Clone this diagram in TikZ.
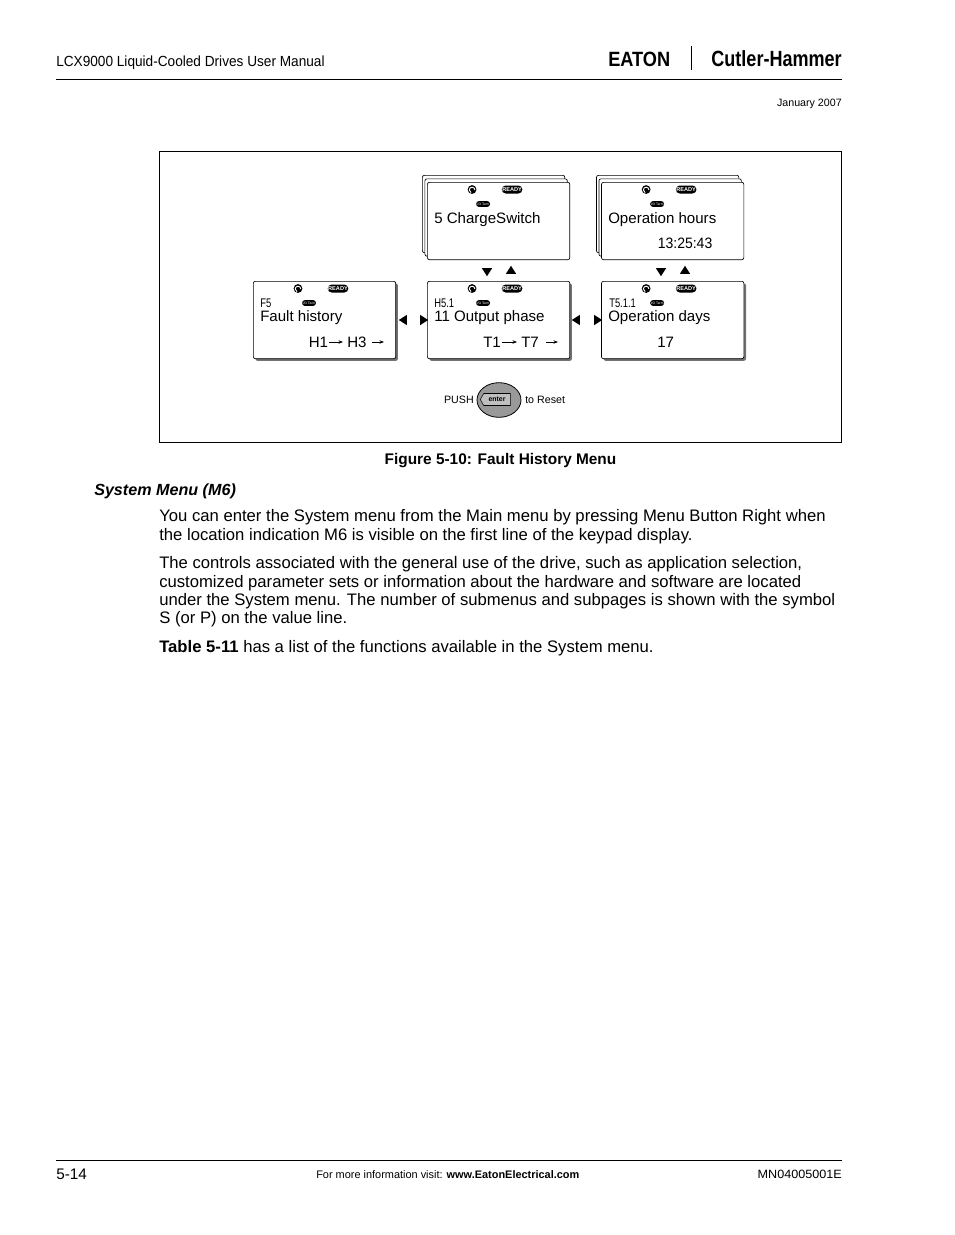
\documentclass[tikz,border=0pt]{standalone}
\usepackage{fontspec}
\setmainfont{Liberation Sans}
\usetikzlibrary{shapes.geometric, shapes.symbols, shapes.misc, arrows.meta, positioning, shadows, backgrounds}

\newcommand{\fsz}[1]{\fontsize{#1}{#1}\selectfont}
\newcommand{\squeeze}[2]{\scalebox{#1}[1]{#2}}
\newcommand{\keypadicons}[1]{
    \node[knob] (#1k) at ([shift={(45,7.5)}]#1.north west) {};
    \draw[white, line width=0.7pt] ([shift={(2.8,0.5)}]#1k.center) arc[start angle=0, end angle=250, radius=2.1pt];
    \node[readyled] (#1r) at ([shift={(85,7.5)}]#1.north west) {READY};
    \node[termled] (#1t) at ([shift={(56,22)}]#1.north west) {I/O Term};
}

\begin{document}
\begin{tikzpicture}[
    x=0.75pt, y=-0.75pt,
    node distance = 15.75pt and 23.25pt,
    screen/.style = {
        rectangle,
        rounded corners=1.5pt,
        minimum width=106.8pt,
        minimum height=58pt,
        inner sep=0pt,
        draw=black,
        line width=0.5pt,
        fill=white
    },
    shaded/.style = {screen, drop shadow={shadow xshift=1.6pt, shadow yshift=-1.6pt, fill=black!55, opacity=1}},
    knob/.style = {circle, fill=black, inner sep=0pt, minimum size=6.6pt},
    readyled/.style = {rounded rectangle, fill=black, text=white, inner sep=0pt, minimum width=15.5pt, minimum height=6pt, font=\bfseries\fsz{4.2}},
    termled/.style = {rounded rectangle, fill=black, text=white, inner sep=0pt, minimum width=10.5pt, minimum height=4.4pt, font=\fsz{2.5}},
    lcdline/.style = {anchor=base west, inner sep=0pt, font=\fsz{11.3}},
    lcdcode/.style = {anchor=base west, inner sep=0pt, font=\fsz{9.4}},
    body/.style = {anchor=base west, inner sep=0pt, font=\fsz{12.5}},
    small/.style = {inner sep=0pt, font=\fsz{8}},
    navtip/.style = {isosceles triangle, isosceles triangle apex angle=65, fill=black, inner sep=0pt, minimum height=6pt, minimum width=6.5pt},
    valarrow/.style = {-{Stealth[length=3.4pt, width=2.6pt]}, line width=0.6pt, shorten <=0.6pt, shorten >=3pt},
    rulerline/.style = {line width=0.5pt, black}
]
\useasboundingbox (0,0) rectangle (954,1235);

%% Page header
\node[anchor=base west, inner sep=0pt, font=\fsz{11}] (title) at (56,66) {\squeeze{0.93}{LCX9000 Liquid-Cooled Drives User Manual}};
\node[anchor=base west, inner sep=0pt, font=\bfseries\fsz{15.5}] (eaton) at (608,66) {\squeeze{0.88}{EATON}};
\node[anchor=base east, inner sep=0pt, font=\bfseries\fsz{16.5}] (brand) at (842,66) {\squeeze{0.82}{Cutler-Hammer}};
\coordinate (barA) at (691,46);
\coordinate (barB) at (691,70);
\draw[rulerline, line width=0.7pt] (barA) -- (barB);
\coordinate (headA) at (56,79.5);
\coordinate (headB) at (842,79.5);
\draw[rulerline] (headA) -- (headB);
\node[anchor=base east, inner sep=0pt, font=\fsz{8}] (date) at (842,106) {January 2007};

%% Figure frame
\node[rectangle, draw=black, line width=0.5pt, minimum width=511.5pt, minimum height=218.25pt, anchor=north west, inner sep=0pt] (frame) at (159,151) {};

%% Screens
\node[shaded, anchor=north west] (s1) at (253,281) {};
\node[shaded, right=of s1] (s2) {};
\node[shaded, right=of s2] (s3) {};
\node[screen, above=of s2] (s4) {};
\node[screen, above=of s3] (s5) {};

\begin{scope}[on background layer]
\node[screen] at ([shift={(-5,-7)}]s4.center) (s4c) {};
\node[screen] at ([shift={(-2.5,-3.5)}]s4.center) (s4b) {};
\node[screen] at ([shift={(-5,-7)}]s5.center) (s5c) {};
\node[screen] at ([shift={(-2.5,-3.5)}]s5.center) (s5b) {};
\end{scope}

\keypadicons{s1}
\keypadicons{s2}
\keypadicons{s3}
\keypadicons{s4}
\keypadicons{s5}

%% Screen texts
\node[lcdcode] (c1) at (260,307) {\squeeze{0.75}{F5}};
\node[lcdcode] (c2) at (434,307) {\squeeze{0.75}{H5.1}};
\node[lcdcode] (c3) at (609,307) {\squeeze{0.75}{T5.1.1}};

\node[lcdline] (l1) at (260,321) {Fault history};
\node[lcdline] (l2) at (434,321) {11 Output phase};
\node[lcdline] (l3) at (608,321) {Operation days};
\node[lcdline] (l4) at (434,223) {5 ChargeSwitch};
\node[lcdline] (l5) at (608,223) {Operation hours};
\node[lcdline] (v5) at (657.5,248) {\squeeze{0.93}{13:25:43}};
\node[lcdline] (v3) at (657,347) {17};

\node[lcdline] (h1) at (308.5,347) {H1};
\node[lcdline] (h3) at (347,347) {H3};
\coordinate (h5) at (388,342);
\node[lcdline] (t1) at (483,347) {T1};
\node[lcdline] (t7) at (521,347) {T7};
\coordinate (t9) at (562,342);

\draw[valarrow] (h1.east |- h5) -- (h3.west |- h5);
\draw[valarrow] (h3.east |- h5) ++(4,0) -- (h5);
\draw[valarrow] (t1.east |- t9) -- (t7.west |- t9);
\draw[valarrow] (t7.east |- t9) ++(6,0) -- (t9);

%% Menu button marks
\node[navtip, shape border rotate=180] (m1) at (404,320) {};
\node[navtip] (m2) at (423,320) {};
\node[navtip, shape border rotate=180] (m3) at (577,320) {};
\node[navtip] (m4) at (597,320) {};
\node[navtip, shape border rotate=-90] (m5) at (487,271) {};
\node[navtip, shape border rotate=90] (m6) at (511,271) {};
\node[navtip, shape border rotate=-90] (m7) at (661,271) {};
\node[navtip, shape border rotate=90] (m8) at (685,271) {};

%% Enter button
\node[ellipse, draw=black, line width=0.6pt, fill=black!40, minimum width=33pt, minimum height=26pt, inner sep=0pt] (btn) at (499,400) {};
\node[signal, signal to=west, signal pointer angle=120, draw=black, line width=0.4pt, fill=black!25, inner sep=1pt, minimum width=22.5pt, minimum height=9pt, font=\bfseries\fsz{5.2}] (key) at (497,399.5) {enter};
\node[small, anchor=east] (push) at (474,399.5) {PUSH};
\node[small, anchor=west] (reset) at (525,399.5) {to Reset};

%% Caption and body text
\node[inner sep=0pt, anchor=base, font=\bfseries\fsz{11.55}] (cap) at (500.5,464) {Figure 5-10: Fault History Menu};
\node[body, font=\bfseries\itshape\fsz{12.1}] (sec) at (94,495.5) {System Menu (M6)};
\node[body] (b1) at (159,521.5) {You can enter the System menu from the Main menu by pressing Menu Button Right when};
\node[body] (b2) at (159,540) {the location indication M6 is visible on the first line of the keypad display.};
\node[body] (b3) at (159,568.5) {The controls associated with the general use of the drive, such as application selection,};
\node[body] (b4) at (159,587) {customized parameter sets or information about the hardware and software are located};
\node[body] (b5) at (159,605) {under the System menu. The number of submenus and subpages is shown with the symbol};
\node[body] (b6) at (159,623.5) {S (or P) on the value line.};
\node[body] (b7) at (159,652) {\textbf{Table 5-11} has a list of the functions available in the System menu.};

%% Page footer
\coordinate (footA) at (56,1160);
\coordinate (footB) at (842,1160);
\draw[rulerline] (footA) -- (footB);
\node[anchor=base west, inner sep=0pt, font=\fsz{11.5}] (page) at (56,1179) {5-14};
\node[anchor=base west, inner sep=0pt, font=\fsz{8.2}] (visit) at (316,1178.5) {For more information visit: \textbf{www.EatonElectrical.com}};
\node[anchor=base east, inner sep=0pt, font=\fsz{9}] (doc) at (842,1178.5) {\squeeze{1.05}{MN04005001E}};
\end{tikzpicture}
\end{document}
